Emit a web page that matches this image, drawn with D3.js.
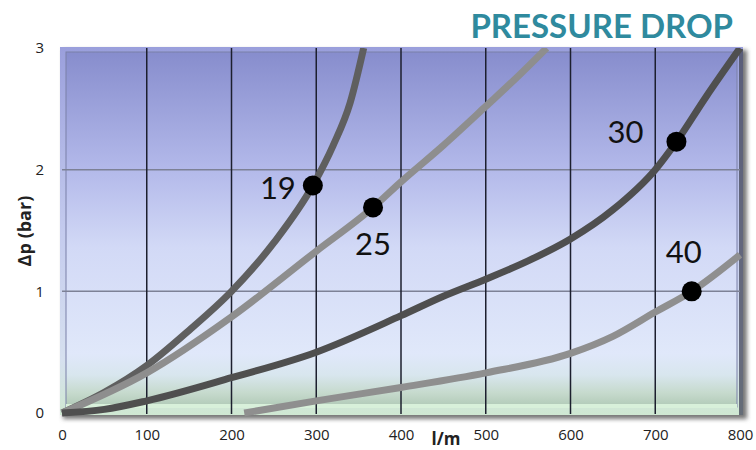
<!DOCTYPE html>
<html>
<head>
<meta charset="utf-8">
<script src="https://cdn.jsdelivr.net/npm/d3@7"></script>
<style>
  body { margin: 0; background: #fff; }
  svg { display: block; }
</style>
</head>
<body>
<svg id="chart" width="756" height="450"></svg>
<script>
// flow (l/m) vs pressure drop (bar), one array per hose size
var size19 = [[0,0],[50,0.17],[100,0.39],[150,0.68],[200,1.0],[250,1.4],[296,1.87],[320,2.2],[340,2.55],[356,3.0]];
var size25 = [[0,0],[100,0.33],[200,0.79],[300,1.33],[367,1.69],[400,1.9],[450,2.2],[500,2.52],[540,2.78],[572,3.0]];
var size30 = [[0,0],[50,0.03],[100,0.1],[200,0.29],[300,0.5],[400,0.8],[450,0.96],[500,1.1],[550,1.25],[600,1.43],[650,1.67],[700,2.0],[725,2.23],[760,2.6],[800,3.0]];
var size40 = [[215,0],[300,0.1],[400,0.21],[500,0.33],[600,0.49],[650,0.63],[700,0.83],[743,1.0],[800,1.3]];

var curves = [
  {name: "19", data: size19, color: "#5f5f5f", marker: [296,1.87], label: [-35, 2]},
  {name: "25", data: size25, color: "#8e8e8e", marker: [367,1.69], label: [0, 36]},
  {name: "30", data: size30, color: "#4f4f4f", marker: [725,2.23], label: [-51, -11]},
  {name: "40", data: size40, color: "#8f8f8f", marker: [743,1.0], label: [-8, -40]}
];

var xTicks = [0,100,200,300,400,500,600,700,800];
var yTicks = [0,1,2,3];

var svg = d3.select("#chart");
var x = d3.scaleLinear().domain([0, 800]).range([62, 740]);
var y = d3.scaleLinear().domain([0, 3]).range([413, 48]);

var defs = svg.append("defs");
var bg = defs.append("linearGradient").attr("id", "bg").attr("x1", 0).attr("y1", 0).attr("x2", 0).attr("y2", 1);
[[0, "#878dcd"], [0.33, "#b3b9ea"], [0.55, "#d2d9f6"], [0.85, "#e0e8fa"], [0.91, "#d8e6ee"], [0.96, "#c6dacd"], [1, "#b0c9b6"]]
  .forEach(function(s) { bg.append("stop").attr("offset", s[0]).attr("stop-color", s[1]); });
var bev = defs.append("linearGradient").attr("id", "bev").attr("x1", 0).attr("y1", 0).attr("x2", 0).attr("y2", 1);
[[0, "#9a9fdc"], [0.5, "#c4cbee"], [0.85, "#d6e0ef"], [1, "#cfe8d2"]]
  .forEach(function(s) { bev.append("stop").attr("offset", s[0]).attr("stop-color", s[1]); });
defs.append("filter").attr("id", "sh").append("feGaussianBlur").attr("stdDeviation", 2);

// frame with bevel and shadow
svg.append("rect").attr("x", 63).attr("y", 50).attr("width", 684).attr("height", 369)
  .attr("fill", "#777").attr("filter", "url(#sh)");
svg.append("rect").attr("x", 60).attr("y", 47).attr("width", 683).attr("height", 368)
  .attr("fill", "url(#bev)");
svg.append("rect").attr("x", 66).attr("y", 52).attr("width", 671).attr("height", 355)
  .attr("fill", "url(#bg)").attr("stroke", "#7a80a8").attr("stroke-width", 1);
svg.append("rect").attr("x", 739).attr("y", 49).attr("width", 4).attr("height", 366).attr("fill", "#4a4d60").attr("opacity", 0.8);
svg.append("rect").attr("x", 66).attr("y", 404).attr("width", 671).attr("height", 4).attr("fill", "#d8f0da");

// grid
svg.append("g").selectAll("line").data(yTicks.slice(1, 3)).join("line")
  .attr("x1", 62).attr("x2", 740).attr("y1", function(d) { return y(d); }).attr("y2", function(d) { return y(d); })
  .attr("stroke", "#7d8196").attr("stroke-width", 1.5);
svg.append("g").selectAll("line").data(xTicks.slice(1, 8)).join("line")
  .attr("y1", 48).attr("y2", 414).attr("x1", function(d) { return x(d); }).attr("x2", function(d) { return x(d); })
  .attr("stroke", "#1c1f2e").attr("stroke-width", 1.5);

// axes labels
var xAxis = svg.append("g").attr("transform", "translate(0,413)")
  .call(d3.axisBottom(x).tickValues(xTicks).tickFormat(d3.format("d")).tickSize(0).tickPadding(16));
var yAxis = svg.append("g").attr("transform", "translate(62,0)")
  .call(d3.axisLeft(y).tickValues(yTicks).tickFormat(d3.format("d")).tickSize(0).tickPadding(18));
[xAxis, yAxis].forEach(function(a) {
  a.attr("font-size", 15).attr("font-family", "'Open Sans', sans-serif");
  a.select(".domain").remove();
  a.selectAll("text").attr("fill", "#222");
});

svg.append("text").attr("x", 446).attr("y", 445).attr("text-anchor", "middle")
  .attr("font-family", "'Open Sans', sans-serif").attr("font-weight", "bold").attr("font-size", 17).attr("fill", "#222").text("l/m");
svg.append("text").attr("transform", "translate(31,231) rotate(-90)").attr("text-anchor", "middle")
  .attr("font-family", "'Open Sans', sans-serif").attr("font-weight", "bold").attr("font-size", 18).attr("fill", "#222").text("∆p (bar)");

svg.append("text").attr("x", 733).attr("y", 38).attr("text-anchor", "end")
  .attr("font-family", "Lato, sans-serif").attr("font-weight", "bold").attr("font-size", 33).attr("fill", "#2f8a9e")
  .text("PRESSURE DROP");

// curves
var line = d3.line().x(function(d) { return x(d[0]); }).y(function(d) { return y(d[1]); }).curve(d3.curveMonotoneX);
var clip = defs.append("clipPath").attr("id", "clip");
clip.append("rect").attr("x", 55).attr("y", 48).attr("width", 688).attr("height", 370);

var g = svg.append("g").attr("clip-path", "url(#clip)");
g.selectAll("path").data(curves).join("path")
  .attr("d", function(d) { return line(d.data); })
  .attr("fill", "none").attr("stroke", function(d) { return d.color; })
  .attr("stroke-width", 7).attr("stroke-linecap", "butt");

svg.append("g").selectAll("circle").data(curves).join("circle")
  .attr("cx", function(d) { return x(d.marker[0]); }).attr("cy", function(d) { return y(d.marker[1]); })
  .attr("r", 10).attr("fill", "#000");

svg.append("g").selectAll("text").data(curves).join("text")
  .attr("x", function(d) { return x(d.marker[0]) + d.label[0]; })
  .attr("y", function(d) { return y(d.marker[1]) + d.label[1]; })
  .attr("text-anchor", "middle").attr("dominant-baseline", "central")
  .attr("font-family", "Lato, 'Open Sans', sans-serif").attr("font-size", 31).attr("fill", "#111")
  .text(function(d) { return d.name; });
</script>
</body>
</html>
